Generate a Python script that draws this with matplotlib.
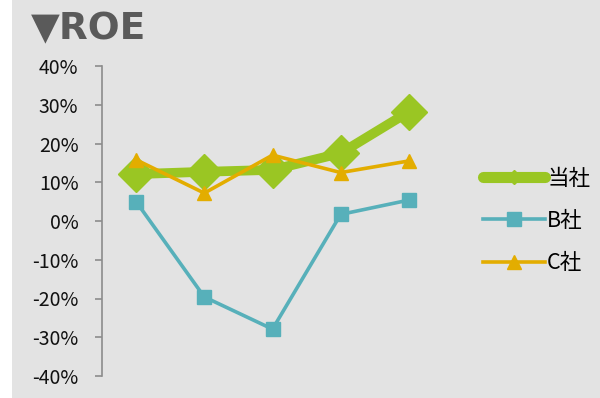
import matplotlib.pyplot as plt
from matplotlib.lines import Line2D
from matplotlib.patches import Rectangle
from matplotlib.ticker import FuncFormatter

plt.rcParams['font.family'] = ['Noto Sans CJK JP', 'DejaVu Sans']

years = [0, 1, 2, 3, 4]
roe_own = [12.1, 12.7, 13.2, 17.5, 28.2]
roe_b = [5.0, -19.6, -27.9, 1.7, 5.4]
roe_c = [15.8, 7.2, 17.0, 12.5, 15.5]
series_names = ['当社', 'B社', 'C社']

green = '#9AC623'
teal = '#57B0BA'
gold = '#E3AD00'
bg = '#E3E3E3'

fig = plt.figure(figsize=(6, 3.98), dpi=100, facecolor='white')
fig.patches.append(Rectangle((12 / 600, 0), 1, 1, transform=fig.transFigure,
                             facecolor=bg, edgecolor='none', zorder=-10))

ax = fig.add_axes([102 / 600, 1 - 376 / 398, 341 / 600, 310 / 398])
ax.set_facecolor('none')

ax.plot(years, roe_b, color=teal, lw=2.6, marker='s', ms=10, zorder=3)
ax.plot(years, roe_c, color=gold, lw=2.6, marker='^', ms=10, zorder=4)
ax.plot(years, roe_own, color=green, lw=7, marker='D', ms=18, zorder=2)

ax.set_xlim(-0.5, 4.5)
ax.set_ylim(-40, 40)
ax.set_yticks(range(-40, 41, 10))
ax.yaxis.set_major_formatter(FuncFormatter(lambda v, p: f'{int(v)}%'))
ax.set_xticks([])
for s in ['top', 'right', 'bottom']:
    ax.spines[s].set_visible(False)
ax.spines['left'].set_color('#8C8C8C')
ax.spines['left'].set_linewidth(1.2)
ax.tick_params(axis='y', direction='out', length=5, width=1.2, color='#8C8C8C',
               labelsize=14, pad=12, labelcolor='#111111')

handles = [
    Line2D([], [], color=green, lw=8, marker='D', ms=7, solid_capstyle='round'),
    Line2D([], [], color=teal, lw=2.6, marker='s', ms=10),
    Line2D([], [], color=gold, lw=2.6, marker='^', ms=10),
]
fig.legend(handles, series_names, loc='center left', bbox_to_anchor=(474 / 600, 1 - 221 / 398),
           frameon=False, fontsize=15.5, handlelength=2.9, handletextpad=0.1,
           labelspacing=0.95, borderaxespad=0)

fig.text(31 / 600, 1 - 29 / 398, '▼ROE', fontsize=27, fontweight='bold',
         color='#5A5A5A', va='center', ha='left', family=['DejaVu Sans'])

fig.savefig('out.png', dpi=100, facecolor=fig.get_facecolor())
